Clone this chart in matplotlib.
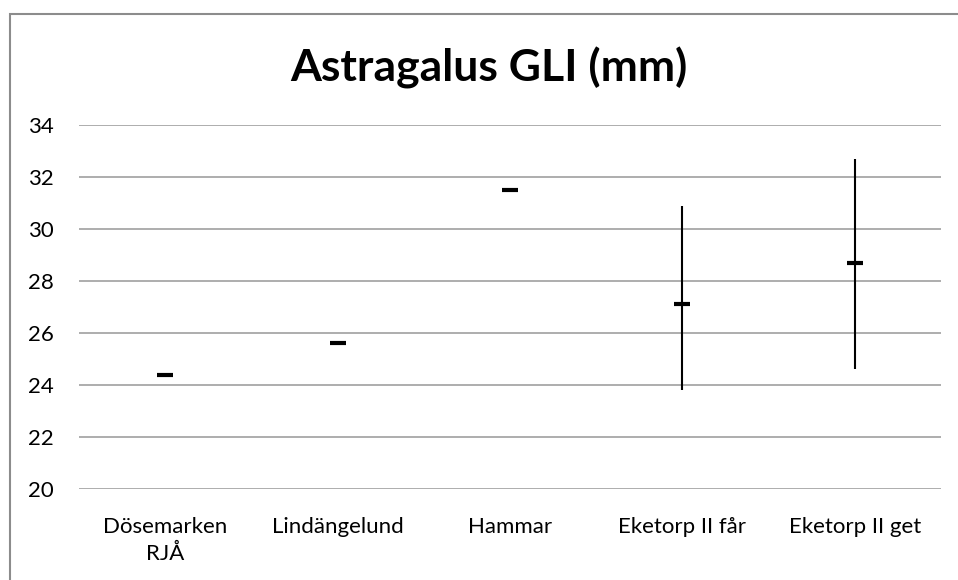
import numpy as np
import matplotlib.pyplot as plt
from matplotlib.patches import Rectangle

# data
sites = ['Dösemarken\nRJÅ', 'Lindängelund', 'Hammar', 'Eketorp II får', 'Eketorp II get']
high = [np.nan, np.nan, np.nan, 30.9, 32.7]
low = [np.nan, np.nan, np.nan, 23.8, 24.6]
close = [24.4, 25.6, 31.5, 27.1, 28.7]

plt.rcParams['font.family'] = ['Lato', 'DejaVu Sans']

fig = plt.figure(figsize=(9.58, 5.8), dpi=100)
ax = fig.add_axes([79 / 958, 1 - 489 / 580, (941 - 79) / 958, (489 - 125) / 580])

x = np.arange(len(sites))
for xi, h, l in zip(x, high, low):
    if not np.isnan(h):
        ax.vlines(xi, l, h, color='black', linewidth=1.5, zorder=3)
ax.plot(x, close, linestyle='none', marker='_', markersize=11, markeredgewidth=3,
        color='black', zorder=4)

ax.set_xlim(-0.5, len(sites) - 0.5)
ax.set_ylim(20, 34)
ax.set_yticks(np.arange(20, 35, 2))
ax.set_xticks(x)
ax.set_xticklabels(sites, fontsize=16, linespacing=1.45)
ax.tick_params(axis='y', labelsize=16, length=0, pad=18)
ax.tick_params(axis='x', length=0, pad=20)
ax.yaxis.grid(True, color='#a0a0a0', linewidth=1.2)
ax.set_axisbelow(True)
for s in ax.spines.values():
    s.set_visible(False)

fig.text(489 / 958, 1 - 68 / 580, 'Astragalus GLI (mm)', ha='center', va='center',
         fontsize=32, fontweight='bold')

# outer chart frame, running off the right and bottom edges
fig.patches.append(Rectangle((10 / 958, -0.1), 1.2, 1.1 - 14 / 580, transform=fig.transFigure,
                             fill=False, edgecolor='#8c8c8c', linewidth=1.5))

fig.savefig('out.png', dpi=100)
